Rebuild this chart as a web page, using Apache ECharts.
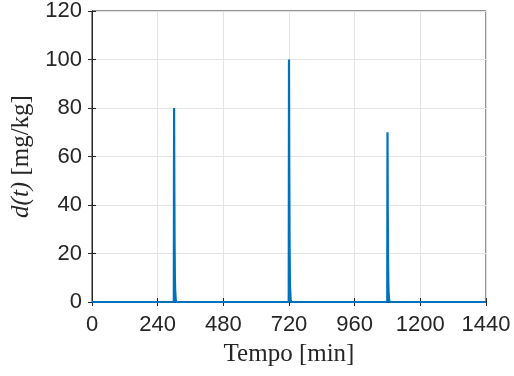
<!DOCTYPE html>
<html><head><meta charset="utf-8">
<script src="https://cdn.jsdelivr.net/npm/echarts@6/dist/echarts.min.js"></script>
<style>html,body{margin:0;padding:0;background:#fff}#c{width:514px;height:376px}</style>
</head><body><div id="c"></div>
<script>
const xTicks = [0, 240, 480, 720, 960, 1200, 1440];
const yTicks = [0, 20, 40, 60, 80, 100, 120];
const times = [0, 299, 300, 301, 302, 303, 304, 306, 308, 719, 720, 721, 722, 723, 724, 726, 728, 1079, 1080, 1081, 1082, 1083, 1084, 1086, 1088, 1440];
const dist  = [0, 0,   80,  45,  22,  10,  5,   1,   0,   0,   100, 55,  27,  12,  6,   1,   0,   0,    70,   38,   18,   8,    4,    1,    0,    0];

const axisColor = '#262626';
const data = times.map((t, i) => [t, dist[i]]);
const chart = echarts.init(document.getElementById('c'));
const serif = 'Liberation Serif';
chart.setOption({
  animation: false,
  grid: {left: 92, right: 28, top: 6, bottom: 74, show: true, borderColor: axisColor, borderWidth: 1},
  xAxis: [{
    type: 'value', min: xTicks[0], max: xTicks[xTicks.length - 1], interval: xTicks[1] - xTicks[0],
    name: 'Tempo [min]', nameLocation: 'middle', nameGap: 40,
    nameTextStyle: {fontFamily: serif, fontSize: 25, color: axisColor},
    axisLine: {show: true, lineStyle: {color: axisColor}},
    axisTick: {show: true, inside: true, length: 4, lineStyle: {color: axisColor}},
    axisLabel: {fontFamily: 'Liberation Sans', fontSize: 22, color: axisColor, margin: 12, formatter: v => String(v)},
    splitLine: {show: true, lineStyle: {color: '#e3e3e3'}}
  }, {
    type: 'value', position: 'top', min: xTicks[0], max: xTicks[xTicks.length - 1], interval: xTicks[1] - xTicks[0],
    axisLine: {show: true, lineStyle: {color: axisColor}},
    axisTick: {show: true, inside: true, length: 4, lineStyle: {color: axisColor}},
    axisLabel: {show: false}, splitLine: {show: false}
  }],
  yAxis: [{
    type: 'value', min: yTicks[0], max: yTicks[yTicks.length - 1], interval: yTicks[1] - yTicks[0],
    name: '{i|d(t)} [mg/kg]', nameLocation: 'middle', nameGap: 56, nameRotate: 90,
    nameTextStyle: {fontFamily: serif, fontSize: 25, color: axisColor,
      rich: {i: {fontFamily: serif, fontStyle: 'italic', fontSize: 25, color: axisColor}}},
    axisLine: {show: true, lineStyle: {color: axisColor}},
    axisTick: {show: true, inside: true, length: 4, lineStyle: {color: axisColor}},
    axisLabel: {fontFamily: 'Liberation Sans', fontSize: 22, color: axisColor, margin: 10, formatter: v => String(v)},
    splitLine: {show: true, lineStyle: {color: '#e3e3e3'}}
  }, {
    type: 'value', position: 'right', min: yTicks[0], max: yTicks[yTicks.length - 1], interval: yTicks[1] - yTicks[0],
    axisLine: {show: true, lineStyle: {color: axisColor}},
    axisTick: {show: true, inside: true, length: 4, lineStyle: {color: axisColor}},
    axisLabel: {show: false}, splitLine: {show: false}
  }],
  series: [{
    type: 'line', data: data, showSymbol: false, symbol: 'none',
    lineStyle: {color: '#0072BD', width: 2.2}, clip: true
  }]
});
</script></body></html>
